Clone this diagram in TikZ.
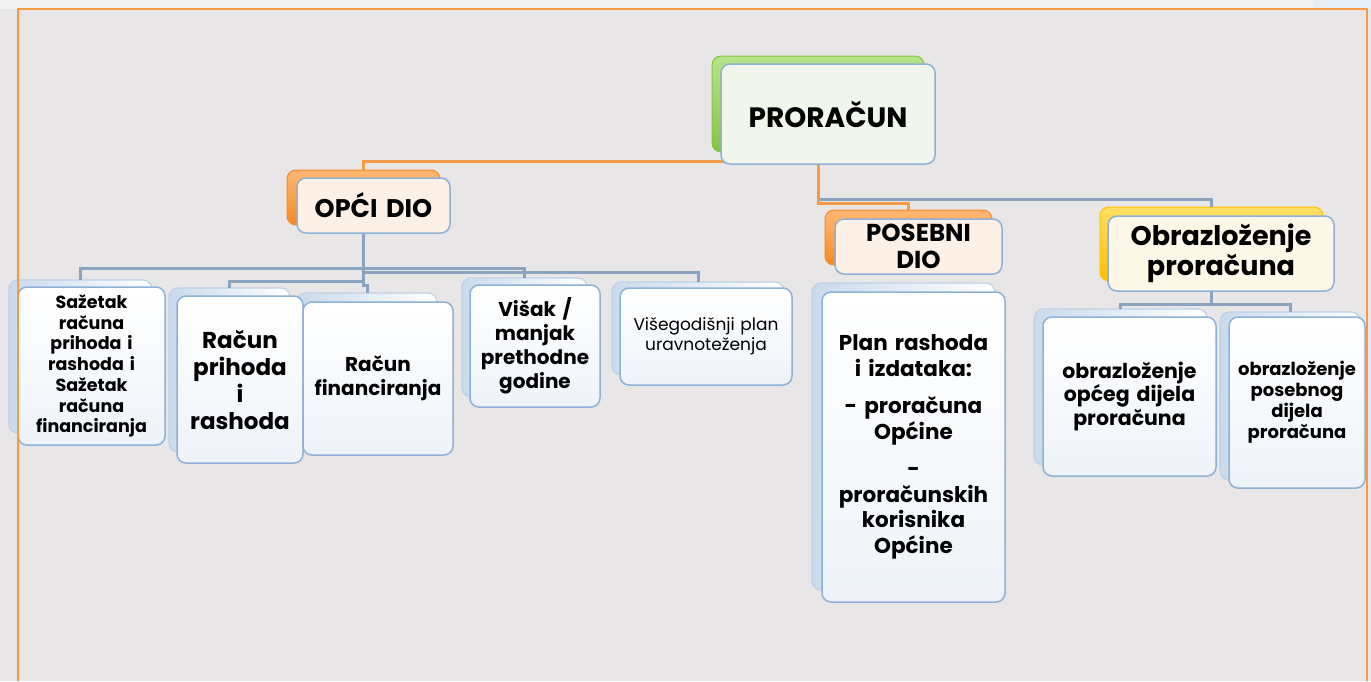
\documentclass[tikz,border=0pt]{standalone}
\usepackage{fontspec}
\setmainfont{Poppins}
\definecolor{bgc}{HTML}{E8E6E7}
\definecolor{topband}{HTML}{F2F2F2}
\definecolor{topblue}{HTML}{E6EEF6}
\definecolor{frameor}{HTML}{F79A46}
\definecolor{orline}{HTML}{F79A46}
\definecolor{grline}{HTML}{8AA4BF}
\definecolor{fbord}{HTML}{8EB1D8}
\definecolor{bbord}{HTML}{BFD2E6}
\definecolor{bfill}{HTML}{C9DAEC}
\definecolor{cfill}{HTML}{EEF3F9}
\definecolor{greenA}{HTML}{B8E38A}
\definecolor{greenB}{HTML}{86C443}
\definecolor{orA}{HTML}{FFB873}
\definecolor{orB}{HTML}{F68A23}
\definecolor{yeA}{HTML}{FFE066}
\definecolor{yeB}{HTML}{FFC000}
\definecolor{fgreen}{HTML}{F1F6EC}
\definecolor{fpeach}{HTML}{FDF1E7}
\definecolor{fcream}{HTML}{FDF7E8}
\begin{document}
\begin{tikzpicture}[x=1pt,y=-1pt,
  every node/.style={inner sep=0pt, outer sep=0pt, anchor=north west},
  backcol/.style 2 args={rounded corners=9pt, top color=#1, bottom color=#2, draw=#2, line width=1pt},
  backbl/.style={rounded corners=9pt, left color=bfill, right color=white, draw=bbord, line width=1.2pt},
  frontcol/.style={rounded corners=9pt, fill=#1, draw=fbord, line width=1.5pt, align=center, font=\bfseries},
  frontbl/.style={rounded corners=9pt, top color=white, bottom color=cfill, draw=fbord, line width=1.5pt, align=center, font=\bfseries},
  gline/.style={draw=grline, line width=3pt},
  oline/.style={draw=orline, line width=3pt},
]
% background
\fill[bgc] (0,0) rectangle (1371,681);
\fill[topband] (0,0) rectangle (1371,9);
\fill[topblue] (1313,0) rectangle (1371,9);
\useasboundingbox (0,0) rectangle (1371,681);

% back boxes
\node[backcol={greenA}{greenB}, minimum width=212pt, minimum height=96pt] (pB) at (712,56) {};
\node[backcol={orA}{orB}, minimum width=153pt, minimum height=55pt] (oB) at (287,170) {};
\node[backcol={orA}{orB}, minimum width=167pt, minimum height=55pt] (qB) at (825,210) {};
\node[backcol={yeA}{yeB}, minimum width=223pt, minimum height=74pt] (rB) at (1100,207) {};
\node[backbl, minimum width=143pt, minimum height=153pt] (aB) at (9,280) {};
\node[backbl, minimum width=121pt, minimum height=164pt] (bB) at (169,288) {};
\node[backbl, minimum width=140pt, minimum height=152pt] (cB) at (297,293) {};
\node[backbl, minimum width=125pt, minimum height=119pt] (dB) at (462,278) {};
\node[backbl, minimum width=172pt, minimum height=93pt] (eB) at (612,282) {};
\node[backbl, minimum width=183pt, minimum height=307pt] (fB) at (812,283) {};
\node[backbl, minimum width=173pt, minimum height=156pt] (sB) at (1034,309) {};
\node[backbl, minimum width=140pt, minimum height=168pt] (tB) at (1220,312) {};

% connectors
\draw[oline] (pB.south |- 0,161) -- (pB.west |- 0,161) -| (oB.north);
\draw[gline] (pB.south |- 0,199) -| (rB.north);
\draw[oline] (pB.south) -- (pB.south |- 0,203) -| (qB.north);
\coordinate (oJ) at (oB.south |- 0,268);
\draw[gline] (oB.south) -- (oB.south |- 0,285) -| (cB.north);
\draw[gline] (oJ) -| (aB.north);
\draw[gline] (oJ) -| (dB.north);
\draw[gline] (oB.south |- 0,272) -| (eB.north);
\draw[gline] (oB.south |- 0,281) -| (bB.north);
\draw[gline] (rB.south) -- (rB.south |- 0,304) -| (sB.north);
\draw[gline] (rB.south |- 0,304) -| (tB.north);

% front boxes
\node[frontcol=fgreen, minimum width=214pt, minimum height=100pt, text width=200pt, font=\bfseries\fontsize{28}{32}\selectfont] (p) at (721,64) {PRORAČUN};
\node[frontcol=fpeach, minimum width=153pt, minimum height=55pt, text width=145pt, font=\bfseries\fontsize{25.5}{28}\selectfont] (o) at (297,178) {OPĆI DIO};
\node[frontcol=fpeach, minimum width=167pt, minimum height=55pt, text width=160pt, font=\bfseries\fontsize{24.5}{27}\selectfont] (q) at (835,219) {POSEBNI\\DIO};
\node[frontcol=fcream, minimum width=226pt, minimum height=75pt, text width=218pt, font=\bfseries\fontsize{27}{30}\selectfont] (r) at (1108,216) {Obrazloženje\\proračuna};

\node[frontbl, minimum width=147pt, minimum height=158pt, text width=140pt, font=\bfseries\fontsize{17.5}{20.7}\selectfont] (a) at (18,287) {Sažetak\\računa\\prihoda i\\rashoda i\\Sažetak\\računa\\financiranja};
\node[frontbl, minimum width=126pt, minimum height=167pt, text width=120pt, font=\bfseries\fontsize{23}{27}\selectfont] (b) at (177,296) {Račun\\prihoda\\i\\rashoda};
\node[frontbl, minimum width=150pt, minimum height=153pt, text width=144pt, font=\bfseries\fontsize{20}{24}\selectfont] (c) at (303,302) {Račun\\financiranja};
\node[frontbl, minimum width=130pt, minimum height=122pt, text width=124pt, font=\bfseries\fontsize{20}{24}\selectfont] (d) at (470,285) {Višak /\\manjak\\prethodne\\godine};
\node[frontbl, minimum width=172pt, minimum height=97pt, text width=166pt, font=\mdseries\fontsize{17}{20}\selectfont] (e) at (620,288) {Višegodišnji plan\\uravnoteženja};
\node[frontbl, minimum width=183pt, minimum height=310pt, text width=176pt, font=\bfseries\fontsize{21.5}{25.5}\selectfont] (f) at (822,292) {Plan rashoda\\i izdataka:\\[12pt]- proračuna\\Općine\\[12pt]-\\proračunskih\\korisnika\\Općine};
\node[frontbl, minimum width=173pt, minimum height=159pt, text width=168pt, font=\bfseries\fontsize{20.5}{23.5}\selectfont] (s) at (1043,317) {obrazloženje\\općeg dijela\\proračuna};
\node[frontbl, minimum width=136pt, minimum height=171pt, text width=134pt, font=\bfseries\fontsize{18}{21}\selectfont] (t) at (1229,317) {obrazloženje\\posebnog\\dijela\\proračuna};

% frame
\draw[frameor, line width=2pt] (18,681) -- (18,9) -- (1367,9) -- (1367,681);
\end{tikzpicture}
\end{document}
